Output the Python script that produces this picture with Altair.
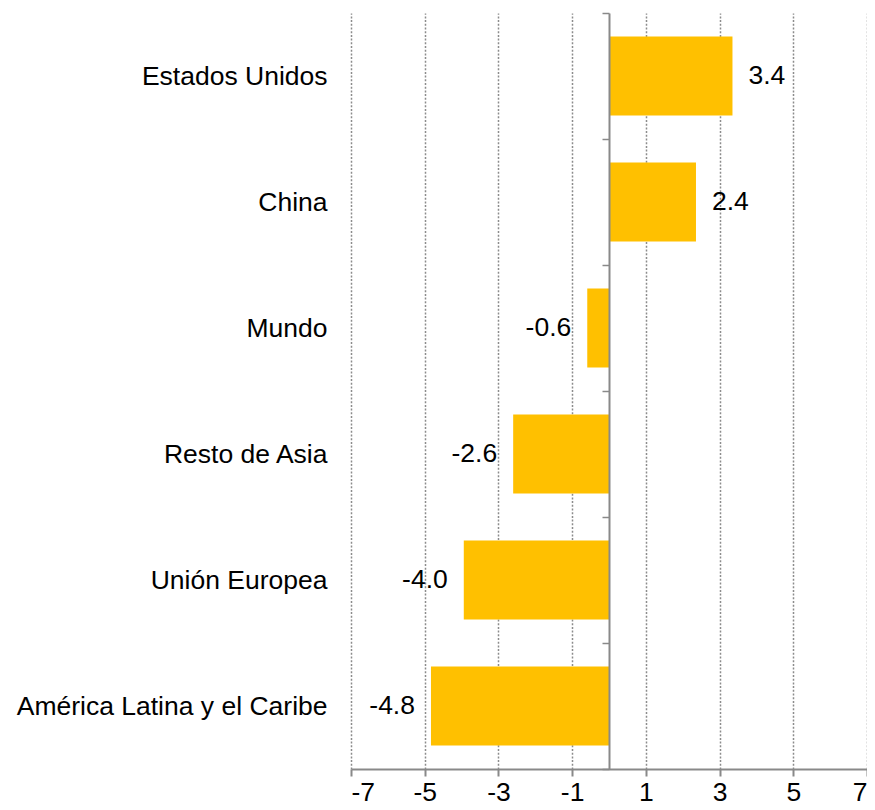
import altair as alt
import pandas as pd

categories = ["Estados Unidos", "China", "Mundo", "Resto de Asia",
              "Unión Europea", "América Latina y el Caribe"]
values = [3.35, 2.36, -0.59, -2.6, -3.94, -4.83]
value_labels = ["3.4", "2.4", "-0.6", "-2.6", "-4.0", "-4.8"]
x_ticks = [-7, -5, -3, -1, 1, 3, 5, 7]

df = pd.DataFrame({"region": categories, "valor": values, "etiqueta": value_labels})

W, H = 516, 756
FONT = "Liberation Sans"
FS = 26.5
GRAY = "#898989"

xenc = alt.X(
    "valor:Q",
    scale=alt.Scale(domain=[-7, 7], nice=False, zero=False),
    axis=alt.Axis(values=x_ticks, title=None, grid=True, gridDash=[2, 1.7],
                  gridColor="#8c8c8c", gridWidth=1.5, domainColor=GRAY, domainWidth=2,
                  tickColor=GRAY, tickWidth=2, tickSize=7, labelFont=FONT,
                  labelFontSize=FS, labelColor="black", labelPadding=3,
                  labelExpr="'' + datum.value"),
)
yenc = alt.Y(
    "region:N", sort=categories,
    scale=alt.Scale(domain=categories, paddingInner=0, paddingOuter=0),
    axis=alt.Axis(title=None, offset=-(W / 2), domainColor=GRAY, domainWidth=2,
                  tickColor=GRAY, tickWidth=1.5, tickSize=7, tickBand="extent",
                  grid=False, labelFont=FONT, labelFontSize=FS, labelColor="black",
                  labelPadding=275, labelLimit=0, zindex=1),
)

base = alt.Chart(df)

bars = base.mark_bar(color="#FFC000", height=alt.RelativeBandSize(band=0.627)).encode(
    x=xenc, x2=alt.datum(0), y=yenc
)

pos = base.transform_filter("datum.valor >= 0").mark_text(
    align="left", baseline="middle", dx=16, font=FONT, fontSize=FS, color="black"
).encode(x=xenc, y=yenc, text="etiqueta:N")

neg = base.transform_filter("datum.valor < 0").mark_text(
    align="right", baseline="middle", dx=-16, font=FONT, fontSize=FS, color="black"
).encode(x=xenc, y=yenc, text="etiqueta:N")

chart = alt.layer(bars, pos, neg).properties(
    width=W, height=H,
    padding={"left": 343, "top": 5, "right": 0, "bottom": 40},
    autosize=alt.AutoSizeParams(type="none"),
).configure_view(strokeWidth=0)

chart.save("out.html", embed_options={"renderer": "svg", "actions": False})
